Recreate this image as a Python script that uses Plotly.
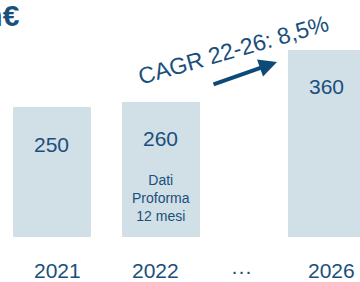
import plotly.graph_objects as go

# Data
years = ["2021", "2022", "2026"]
values = [250, 260, 360]
bar_pos = [0, 1, 2.52]
tick_labels = ["2021", "2022", "···", "2026"]
tick_pos = [0.05, 0.95, 1.74, 2.56]
note_text = "Dati<br>Proforma<br>12 mesi"
cagr_text = "CAGR 22-26: 8,5%"
unit_text = "Mln€"

BAR = "#d1dfe6"
TXT = "#1a4f7c"
ARROW = "#0e4a78"
FONT = "Liberation Sans, Arial, sans-serif"

W, H = 360, 282

fig = go.Figure()
fig.add_trace(go.Bar(
    x=bar_pos, y=values, width=0.716,
    marker=dict(color=BAR, line=dict(width=0)),
    hoverinfo="skip", showlegend=False,
))

ann = []
# value labels inside bars
for xp, v in zip(bar_pos, values):
    ann.append(dict(x=xp, y=v, xref="x", yref="y", text=str(v), showarrow=False,
                    yanchor="middle", yshift=-37,
                    font=dict(family=FONT, size=21, color=TXT)))
# category labels
for xp, t in zip(tick_pos, tick_labels):
    ann.append(dict(x=xp, y=1 - 270 / H, xref="x", yref="paper", text=t, showarrow=False,
                    yanchor="middle", font=dict(family=FONT, size=21, color=TXT)))
# note in 2022 bar
ann.append(dict(x=bar_pos[1], y=1 - 198 / H, xref="x", yref="paper", text=note_text,
                showarrow=False, yanchor="middle",
                font=dict(family=FONT, size=14, color=TXT)))
# CAGR text
ann.append(dict(x=233 / W, y=1 - 50 / H, xref="paper", yref="paper", text=cagr_text,
                showarrow=False, textangle=-16, xanchor="center", yanchor="middle",
                font=dict(family=FONT, size=23, color=TXT)))
# arrow
ann.append(dict(x=277 / W, y=1 - 62 / H, xref="paper", yref="paper", text="",
                showarrow=True, ax=-65, ay=23, arrowhead=2, arrowsize=0.9,
                arrowwidth=4, arrowcolor=ARROW))
# unit title (cropped)
ann.append(dict(x=22 / W, y=1 - 16 / H, xref="paper", yref="paper", text="<b>" + unit_text + "</b>",
                showarrow=False, xanchor="right", yanchor="middle",
                font=dict(family=FONT, size=30, color=TXT)))

fig.update_layout(
    width=W, height=H,
    margin=dict(l=0, r=0, t=0, b=0),
    paper_bgcolor="white", plot_bgcolor="white",
    xaxis=dict(range=[-0.477, 2.826], visible=False),
    yaxis=dict(range=[-86.5, 455.8], visible=False),
    annotations=ann,
    bargap=0,
)

fig.write_html("out.html", config={"displayModeBar": False},
               post_script="document.body.style.margin='0';document.body.style.overflow='hidden';")
